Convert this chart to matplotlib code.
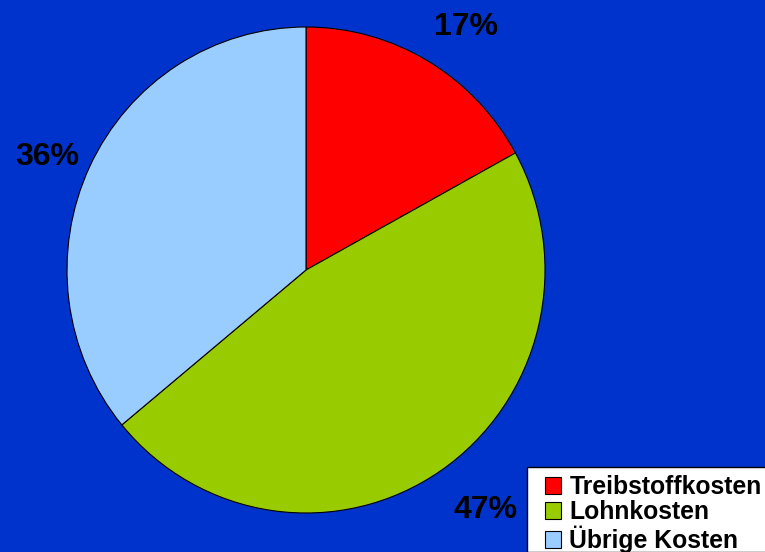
import matplotlib
matplotlib.use("Agg")
import numpy as np
import matplotlib.pyplot as plt
from matplotlib.patches import Rectangle

categories = ["Treibstoffkosten", "Lohnkosten", "Übrige Kosten"]
values = [17, 47, 36]
colors = ["#FF0000", "#99CC00", "#99CCFF"]
bg = "#0033CC"

# label placement (radius factor, angle shift in degrees) - styling only
label_r = [1.22, 1.223, 1.188]
label_shift = [-2.7, 3.6, 1.0]

plt.rcParams['font.family'] = ['Liberation Sans', 'DejaVu Sans']

W, H = 765, 552
fig = plt.figure(figsize=(W / 100, H / 100), dpi=100, facecolor=bg)

cx, cy, rx, ry = 306, 270, 239, 243
ax = fig.add_axes([(cx - rx) / W, (H - cy - ry) / H, 2 * rx / W, 2 * ry / H])
ax.set_facecolor(bg)

wedges, texts, autotexts = ax.pie(
    values, colors=colors, startangle=90, counterclock=False,
    autopct='%1.0f%%', pctdistance=1.21,
    wedgeprops=dict(edgecolor='black', linewidth=0.8),
    textprops=dict(fontsize=23, fontweight='bold', color='black'),
)
for w, t, r, s in zip(wedges, autotexts, label_r, label_shift):
    mid = np.deg2rad((w.theta1 + w.theta2) / 2 + s)
    t.set_position((r * np.cos(mid), r * np.sin(mid) - 0.02))
ax.set_aspect('auto')
ax.set_xlim(-1, 1)
ax.set_ylim(-1, 1)
ax.axis('off')

# legend frame
fig.patches.append(Rectangle((527 / W, 0), 1 - 527 / W + 0.01, 1 - 467 / H,
                             transform=fig.transFigure, facecolor='white',
                             edgecolor='black', linewidth=1.0, zorder=1))

leg = fig.legend(
    wedges, categories, loc='upper left',
    bbox_to_anchor=(545 / W, 1 - 475 / H), bbox_transform=fig.transFigure,
    prop=dict(family='Liberation Sans', weight='bold', size=17.8),
    frameon=False, borderpad=0, borderaxespad=0, labelspacing=0.06,
    handlelength=0.66, handleheight=0.66, handletextpad=0.33,
)
leg.set_zorder(5)
for h in leg.legend_handles:
    h.set_edgecolor('black')
    h.set_linewidth(0.8)

fig.savefig("out.png", dpi=100, facecolor=bg)
